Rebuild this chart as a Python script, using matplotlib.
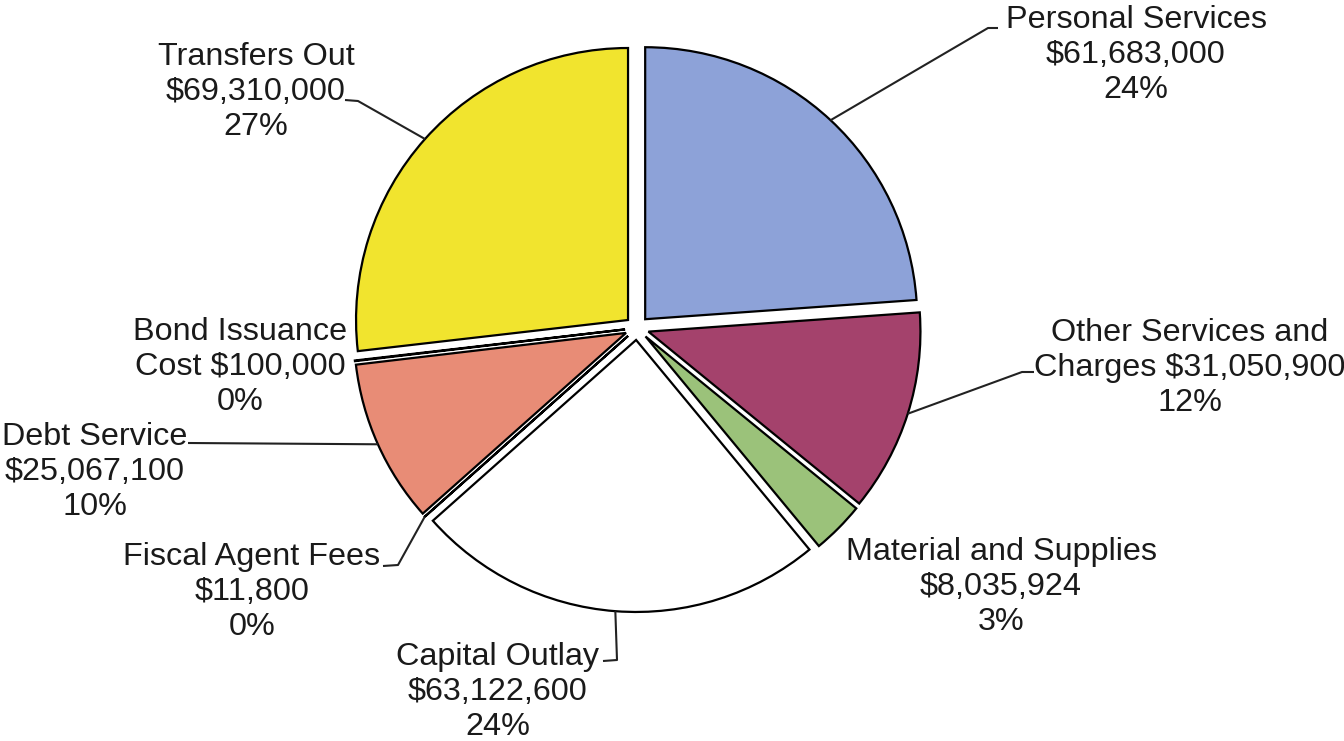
import numpy as np
import matplotlib
matplotlib.use("Agg")
import matplotlib.pyplot as plt

# ---- data ----
categories = ["Personal Services", "Other Services and Charges", "Material and Supplies",
              "Capital Outlay", "Fiscal Agent Fees", "Debt Service",
              "Bond Issuance Cost", "Transfers Out"]
label_heads = ["Personal Services\n", "Other Services and\nCharges ", "Material and Supplies\n",
               "Capital Outlay\n", "Fiscal Agent Fees\n", "Debt Service\n",
               "Bond Issuance\nCost ", "Transfers Out\n"]
amounts = [61683000, 31050900, 8035924, 63122600, 11800, 25067100, 100000, 69310000]
colors = ["#8DA2D8", "#A4426C", "#9BC27A", "#FFFFFF", "#FFFFFF", "#E88C76", "#FFFFFF", "#F1E42E"]

W, H = 1344, 741
plt.rcParams['font.family'] = ['Liberation Sans', 'DejaVu Sans']

fig = plt.figure(figsize=(W / 100, H / 100), dpi=100)
ax = fig.add_axes([0, 0, 1, 1])

R = 272
cx, cy = 637, H - 328
wedges, _ = ax.pie(amounts, colors=colors, startangle=90, counterclock=False,
                   radius=R, center=(cx, cy), explode=[12] * len(amounts),
                   wedgeprops=dict(edgecolor="black", linewidth=1.6))
ax.set_xlim(0, W)
ax.set_ylim(0, H)
ax.set_aspect("equal")
ax.axis("off")

total = sum(amounts)
# label layout (pixel coordinates from top-left): text centre, leader elbow, leader end
text_pos = [(1136, 55), (1190, 368), (1001, 587), (498, 692),
            (252, 592), (95, 472), (240, 367), (256, 92)]
elbows = [(988, 28), (1022, 372), None, (617, 660), (398, 565), None, None, (358, 101)]
ends = [(998, 28), (1034, 372), None, (603, 661), (383, 566), (188, 443), None, (345, 100)]

for w, head, amt, tp, el, en in zip(wedges, label_heads, amounts, text_pos, elbows, ends):
    pct = round(100 * amt / total)
    txt = f"{head}${amt:,}\n{pct}%"
    ax.text(tp[0], H - tp[1], txt, ha="center", va="center", fontsize=23.3,
            linespacing=1.2, color="#1a1a1a")
    if en is not None:
        mid = np.deg2rad((w.theta1 + w.theta2) / 2)
        ax0 = w.center[0] + w.r * np.cos(mid)
        ay0 = w.center[1] + w.r * np.sin(mid)
        xs = [ax0] + ([el[0]] if el else []) + [en[0]]
        ys = [ay0] + ([H - el[1]] if el else []) + [H - en[1]]
        ax.plot(xs, ys, color="#222222", lw=1.5, solid_capstyle="butt")

fig.savefig("out.png", dpi=100)
